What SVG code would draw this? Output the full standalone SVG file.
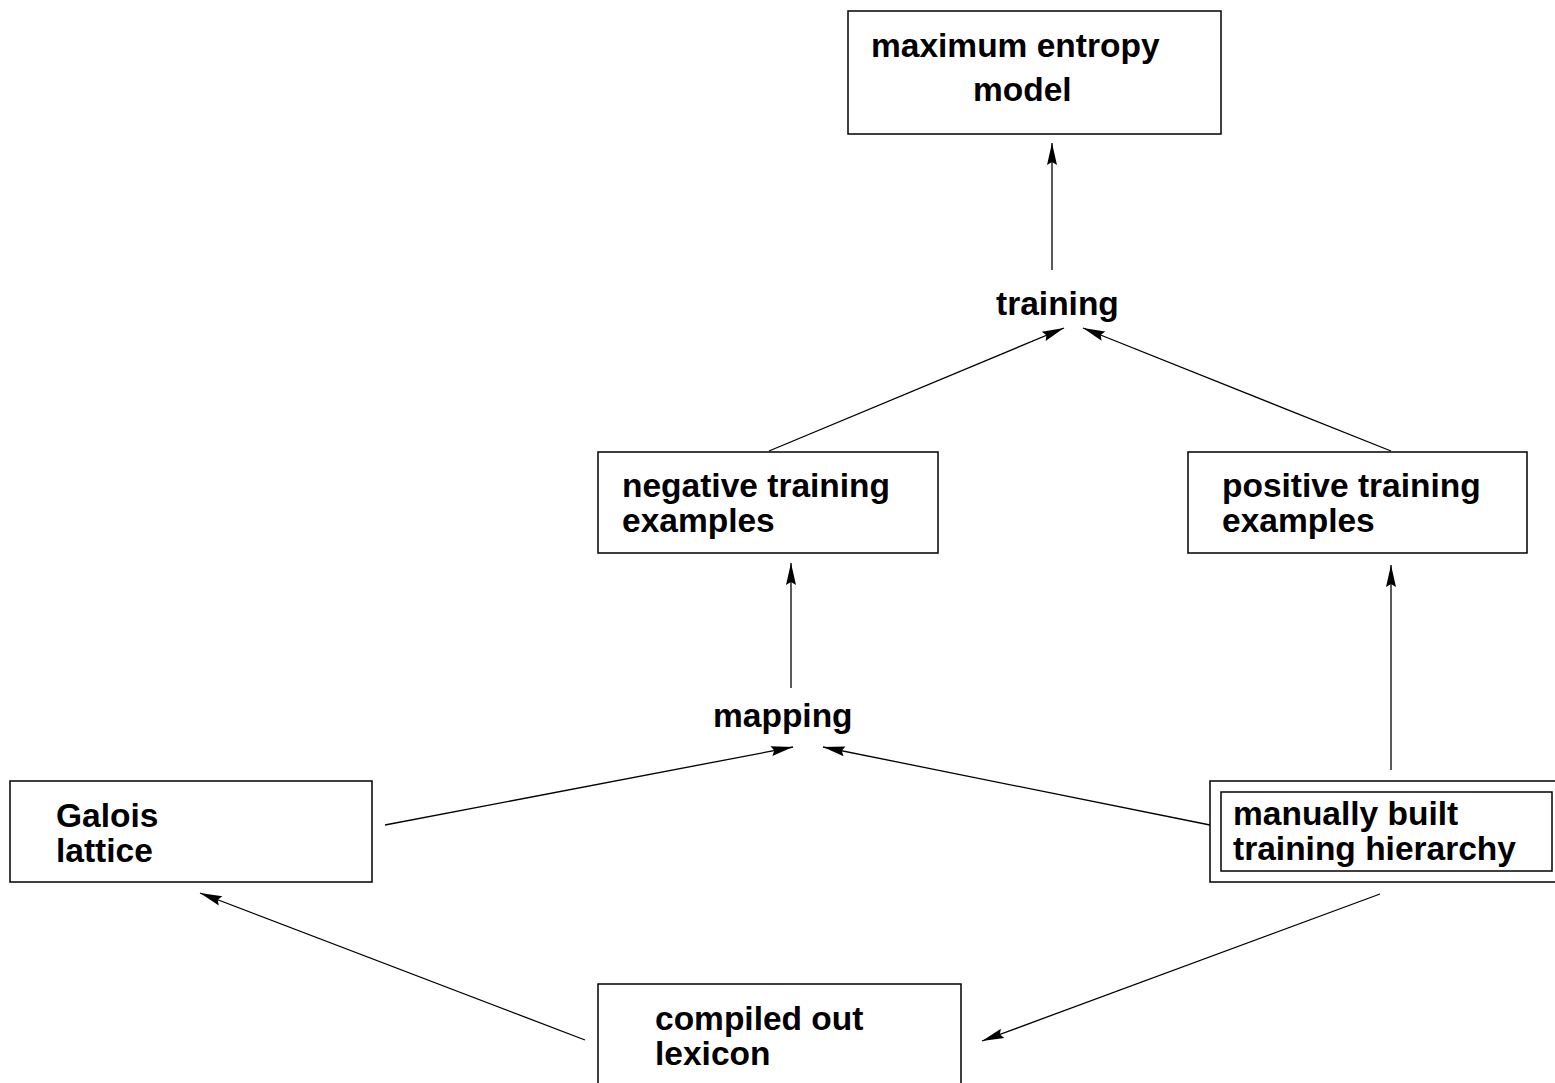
<svg xmlns="http://www.w3.org/2000/svg" width="1555" height="1083" viewBox="0 0 1555 1083">
  <style>
    .box { fill: #ffffff; stroke: #000000; stroke-width: 1.5; }
    .lbl { font-family: "Liberation Sans", Arial, Helvetica, sans-serif; font-weight: bold; font-size: 33.5px; fill: #000000; }
    .edge { stroke: #000000; stroke-width: 1.3; fill: none; marker-end: url(#head); }
  </style>
  <defs>
    <marker id="head" markerUnits="userSpaceOnUse" markerWidth="22" markerHeight="10" refX="22" refY="5" orient="auto" overflow="visible">
      <path d="M0,0 L22,5 L0,10 L3,5 z" fill="#000000"/>
    </marker>
  </defs>
  <rect width="1555" height="1083" fill="#ffffff"/>

  <g id="connectors">
    <line class="edge" x1="1052" y1="270" x2="1052" y2="143"/>
    <line class="edge" x1="769" y1="451" x2="1064" y2="328"/>
    <line class="edge" x1="1391" y1="451" x2="1083" y2="328"/>
    <line class="edge" x1="791" y1="688" x2="791" y2="563"/>
    <line class="edge" x1="1391" y1="770" x2="1391" y2="565"/>
    <line class="edge" x1="385" y1="825" x2="793" y2="747"/>
    <line class="edge" x1="1210" y1="825" x2="823" y2="747"/>
    <line class="edge" x1="585" y1="1040" x2="200" y2="893"/>
    <line class="edge" x1="1380" y1="894" x2="982" y2="1041"/>
  </g>

  <g id="max-entropy-model">
    <rect class="box" x="848" y="11" width="373" height="123"/>
    <text class="lbl" x="871" y="57">maximum entropy</text>
    <text class="lbl" x="973" y="101">model</text>
  </g>

  <g id="training">
    <text class="lbl" x="996" y="315">training</text>
  </g>

  <g id="negative-examples">
    <rect class="box" x="598" y="452" width="340" height="101"/>
    <text class="lbl" x="622" y="497">negative training</text>
    <text class="lbl" x="622" y="532">examples</text>
  </g>

  <g id="positive-examples">
    <rect class="box" x="1188" y="452" width="339" height="101"/>
    <text class="lbl" x="1222" y="497">positive training</text>
    <text class="lbl" x="1222" y="532">examples</text>
  </g>

  <g id="mapping">
    <text class="lbl" x="713" y="727">mapping</text>
  </g>

  <g id="galois-lattice">
    <rect class="box" x="10" y="781" width="362" height="101"/>
    <text class="lbl" x="56" y="827">Galois</text>
    <text class="lbl" x="56" y="862">lattice</text>
  </g>

  <g id="training-hierarchy">
    <rect class="box" x="1210" y="781" width="356" height="101"/>
    <rect class="box" x="1221" y="792" width="331" height="79"/>
    <text class="lbl" x="1233" y="825">manually built</text>
    <text class="lbl" x="1233" y="860">training hierarchy</text>
  </g>

  <g id="compiled-lexicon">
    <rect class="box" x="598" y="984" width="363" height="110"/>
    <text class="lbl" x="655" y="1030">compiled out</text>
    <text class="lbl" x="655" y="1065">lexicon</text>
  </g>
</svg>
